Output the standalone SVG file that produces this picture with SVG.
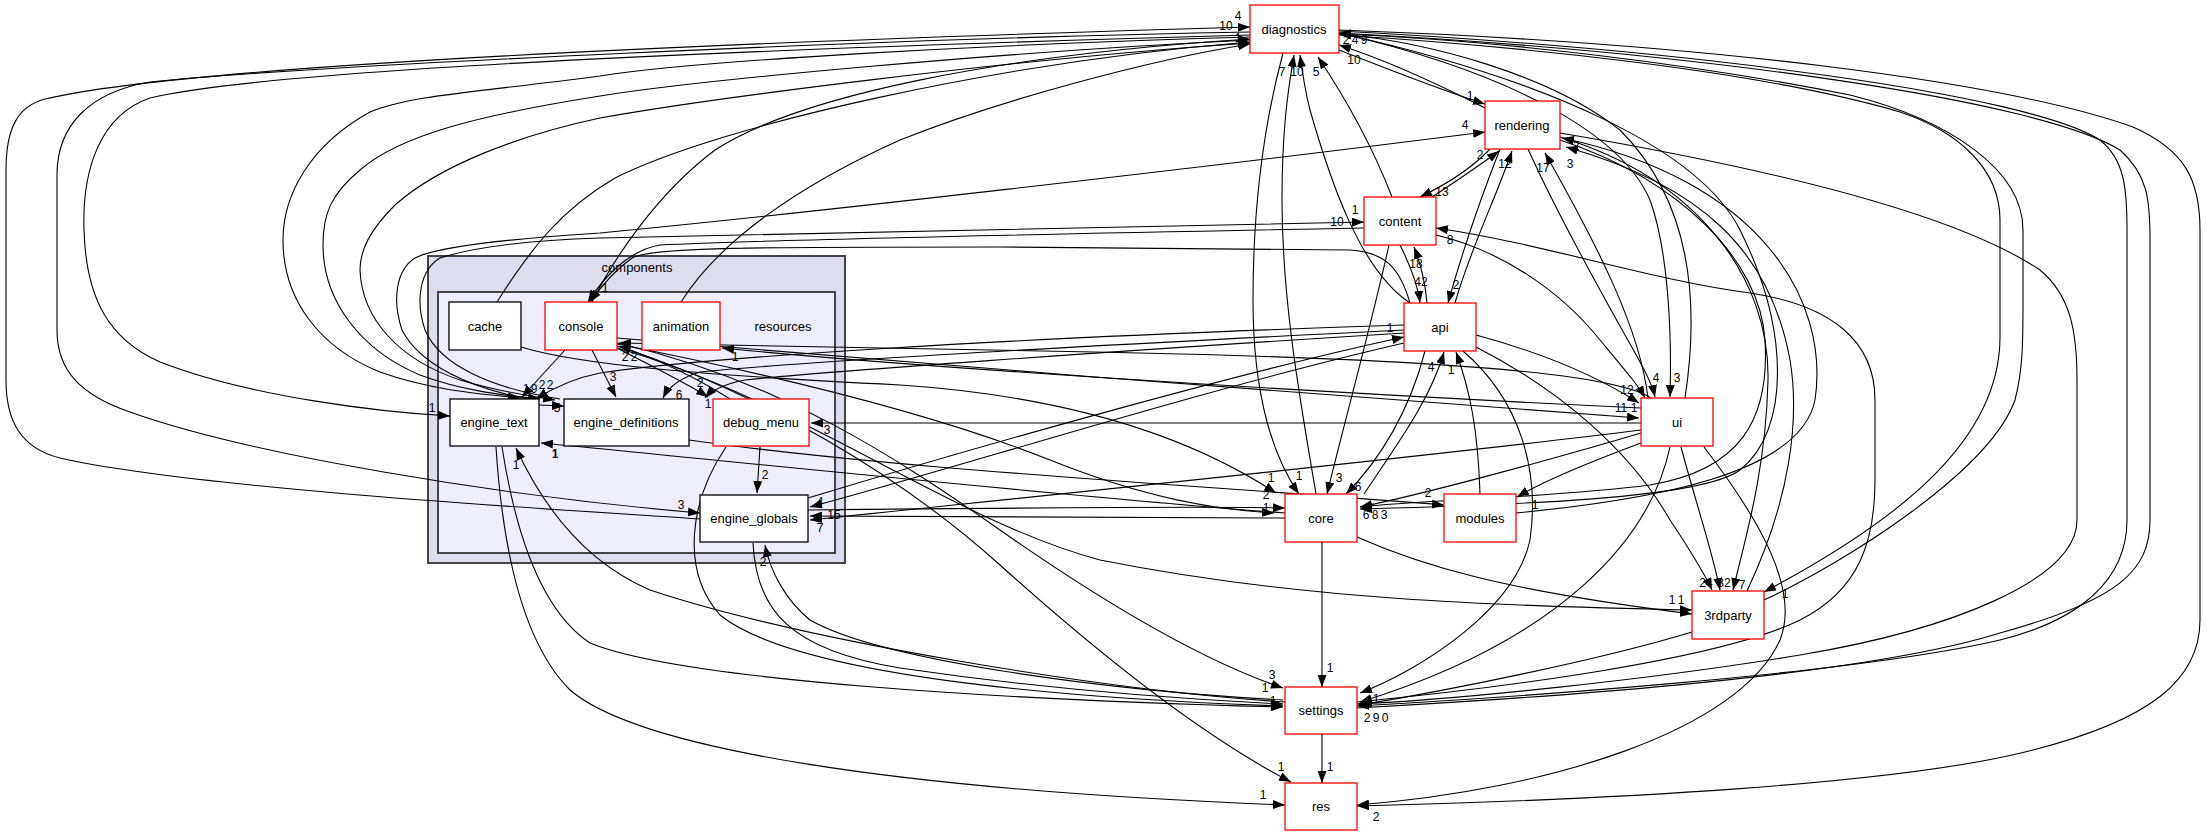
<svg xmlns="http://www.w3.org/2000/svg" width="2207" height="836" viewBox="0 0 2207 836">
<defs>
<marker id="a" viewBox="0 0 12 9" refX="12" refY="4.5" markerWidth="12" markerHeight="9" orient="auto" markerUnits="userSpaceOnUse"><path d="M0,0 L12,4.5 L0,9 z" fill="#000"/></marker>
<style>
.e{fill:none;stroke:#000;stroke-width:1.1;marker-end:url(#a)}
.r{fill:#fff;stroke:#ff0000;stroke-width:1.3}
.b{fill:#fff;stroke:#000;stroke-width:1.3}
.t{font-family:"Liberation Sans",Arial,sans-serif;font-size:13px;text-anchor:middle;fill:#000}
.l{font-family:"Liberation Sans",Arial,sans-serif;font-size:12px;text-anchor:middle;fill:#000}
</style>
</defs>
<rect width="2207" height="836" fill="#fff"/>
<g id="cluster_components">
<rect x="428" y="256" width="417" height="307" fill="#ddddee" stroke="#444" stroke-width="2"/>
<text class="t" x="637" y="272">components</text>
</g>
<g id="cluster_resources">
<rect x="438" y="292" width="397" height="261" fill="#eeeeff" stroke="#444" stroke-width="2"/>
<text class="t" x="783" y="331">resources</text>
</g>
<g id="connectors">
<path class="e" d="M700,519 C600,512 200,490 60,458 C20,448 6,420 6,380 L6,170 C6,128 18,106 45,99 C200,62 800,40 1250,27"/>
<path class="e" d="M1250,32 C900,38 300,66 150,82 C90,92 57,125 57,175 L57,330 C57,370 80,395 130,412 C250,455 500,496 700,513"/>
<path class="e" d="M1250,35 C1000,42 300,62 150,98 C100,115 82,170 84,230 C86,300 110,340 160,362 C250,397 380,412 450,416"/>
<path class="e" d="M1250,37 C1000,44 700,60 600,76 C480,92 410,95 370,112 C310,145 283,195 283,240 C283,300 320,348 380,372 C430,390 480,394 520,398"/>
<path class="e" d="M1250,40 C1000,52 700,80 600,96 C480,115 400,135 360,170 C330,195 323,215 323,245 C323,300 360,350 420,375 C460,390 500,395 540,399"/>
<path class="e" d="M1250,43 C1000,60 700,100 600,118 C520,135 440,165 395,205 C370,230 360,250 360,270 C362,320 400,360 460,380 C500,392 530,396 555,400"/>
<path class="e" d="M528,399 C470,388 420,365 402,330 C392,300 396,270 415,258 C440,245 520,238 600,233 C800,214 1200,168 1485,132"/>
<path class="e" d="M560,399 C490,388 440,365 425,330 C415,300 420,270 440,258 C480,245 540,240 600,238 C900,230 1200,224 1364,222"/>
<path class="e" d="M539,405 L564,406"/>
<path class="e" d="M497,302 C530,250 560,210 615,178 C720,125 1000,62 1250,42"/>
<path class="e" d="M592,302 C612,262 655,195 715,150 C800,95 1000,55 1250,39"/>
<path class="e" d="M681,302 C720,240 800,185 900,140 C1000,100 1150,60 1250,44"/>
<path class="e" d="M1410,303 C1400,268 1385,252 1350,250 L1000,247 C760,247 650,247 632,258 C615,270 600,288 590,302"/>
<path class="e" d="M1364,228 C1100,233 760,240 660,245 C630,250 605,275 588,302"/>
<path class="e" d="M1339,30 C1700,43 2000,80 2133,127 C2185,150 2200,180 2200,230 L2200,620 C2200,680 2150,720 2033,750 C1900,785 1600,800 1357,806"/>
<path class="e" d="M1339,31 C1700,50 2030,95 2100,140 C2125,160 2127,190 2127,230 L2127,520 C2127,580 2080,620 2000,640 C1850,675 1500,698 1357,706"/>
<path class="e" d="M1357,708 C1500,700 1850,680 2000,633 C2120,600 2150,570 2150,520 L2150,240 C2150,200 2148,175 2120,150 C2040,100 1700,52 1339,33"/>
<path class="e" d="M1764,600 C1850,560 1990,470 2015,400 C2023,370 2023,340 2023,300 L2023,230 C2023,170 1950,120 1850,95 C1700,65 1500,40 1339,34"/>
<path class="e" d="M1339,35 C1500,45 1750,68 1900,112 C1960,132 2000,170 2000,220 L2000,337 C2000,440 1900,520 1764,592"/>
<path class="e" d="M1560,133 C1750,165 1950,210 2040,270 C2070,295 2077,330 2077,380 L2077,520 C2077,580 1950,630 1800,655 C1650,680 1450,700 1357,704"/>
<path class="e" d="M1357,702 C1500,688 1720,660 1800,620 C1860,590 1875,540 1875,480 L1875,400 C1875,340 1830,305 1750,293 C1650,280 1550,245 1436,228"/>
<path class="e" d="M1485,108 C1430,80 1380,58 1339,45"/>
<path class="e" d="M1339,50 C1390,70 1440,90 1485,104"/>
<path class="e" d="M1392,197 C1370,140 1340,90 1318,57"/>
<path class="e" d="M1410,303 C1360,270 1330,180 1310,110 C1305,90 1302,70 1300,55"/>
<path class="e" d="M1316,494 C1300,400 1282,300 1282,200 C1282,120 1290,80 1294,55"/>
<path class="e" d="M1283,53 C1265,120 1253,200 1253,300 C1253,400 1275,460 1299,494"/>
<path class="e" d="M1490,149 C1470,170 1445,185 1420,197"/>
<path class="e" d="M1432,197 C1458,180 1480,165 1499,151"/>
<path class="e" d="M1500,149 C1480,200 1460,260 1448,303"/>
<path class="e" d="M1455,303 C1470,250 1495,200 1512,151"/>
<path class="e" d="M1400,245 C1410,265 1418,285 1420,303"/>
<path class="e" d="M1427,303 C1425,280 1420,262 1414,247"/>
<path class="e" d="M1389,245 C1370,330 1345,420 1327,494"/>
<path class="e" d="M1425,351 C1410,410 1380,460 1346,494"/>
<path class="e" d="M1364,494 C1400,440 1430,400 1444,352"/>
<path class="e" d="M1480,494 C1478,430 1470,390 1456,352"/>
<path class="e" d="M1322,542 L1322,687"/>
<path class="e" d="M1322,734 L1322,783"/>
<path class="e" d="M1528,149 C1560,220 1600,290 1625,335 C1642,365 1652,383 1655,397"/>
<path class="e" d="M1339,33 C1500,70 1620,130 1650,200 C1668,250 1672,330 1670,397"/>
<path class="e" d="M1648,398 C1640,330 1600,250 1545,153"/>
<path class="e" d="M1685,398 C1700,300 1690,200 1620,130 C1550,75 1430,42 1339,34"/>
<path class="e" d="M1560,140 C1680,180 1760,260 1765,340 C1770,420 1740,470 1650,485 C1550,498 1420,500 1360,507"/>
<path class="e" d="M1339,33 C1550,80 1700,150 1740,230 C1790,330 1790,430 1740,470 C1700,500 1500,505 1360,509"/>
<path class="e" d="M1436,235 C1500,250 1560,290 1600,340 C1625,370 1638,385 1645,398"/>
<path class="e" d="M1476,335 C1550,355 1600,378 1639,403"/>
<path class="e" d="M617,338 C900,362 1400,402 1639,418" stroke-width="1.6"/>
<path class="e" d="M1651,398 C1620,378 1500,362 1180,354 C950,348 700,345 619,343"/>
<path class="e" d="M1641,408 C1300,392 900,366 722,348"/>
<path class="e" d="M1641,423 L811,423"/>
<path class="e" d="M1641,430 C1400,460 1000,500 810,520"/>
<path class="e" d="M1641,433 C1550,460 1420,495 1360,507"/>
<path class="e" d="M1641,443 C1590,462 1545,480 1517,497"/>
<path class="e" d="M1670,447 C1650,540 1560,640 1360,702"/>
<path class="e" d="M1681,447 C1695,500 1712,550 1720,590"/>
<path class="e" d="M1704,447 C1760,520 1800,590 1780,640 C1740,730 1550,790 1357,805"/>
<path class="e" d="M1476,347 C1560,390 1630,450 1670,520 C1690,550 1705,575 1712,590"/>
<path class="e" d="M1560,137 C1700,180 1770,280 1768,380 C1766,470 1745,540 1733,590"/>
<path class="e" d="M1747,591 C1790,500 1800,420 1790,360 C1770,250 1700,185 1566,147"/>
<path class="e" d="M1516,513 C1650,500 1800,475 1815,400 C1830,300 1760,180 1562,138"/>
<path class="e" d="M1463,351 C1520,400 1540,470 1530,540 C1515,610 1420,670 1360,693"/>
<path class="e" d="M1692,632 C1600,660 1450,690 1360,705"/>
<path class="e" d="M1357,537 C1420,565 1500,590 1692,614"/>
<path class="e" d="M1404,343 C1200,390 950,470 810,507"/>
<path class="e" d="M808,498 C1000,440 1250,370 1404,337"/>
<path class="e" d="M1404,325 C1000,338 700,358 600,373 C570,379 550,390 536,399"/>
<path class="e" d="M1404,330 C1100,345 800,362 700,372 C680,378 668,388 663,398"/>
<path class="e" d="M1404,333 C1100,352 820,372 745,380 C725,384 712,390 705,398"/>
<path class="e" d="M1285,518 L810,516"/>
<path class="e" d="M808,510 C1000,508 1200,506 1285,508"/>
<path class="e" d="M1285,513 C1100,500 700,458 541,443"/>
<path class="e" d="M1285,702 C1100,690 800,640 650,590 C580,560 540,500 516,448"/>
<path class="e" d="M502,447 C515,530 540,610 590,643 C680,680 1000,700 1283,707"/>
<path class="e" d="M496,447 C502,540 520,640 570,690 C640,750 900,790 1285,805"/>
<path class="e" d="M753,543 C756,610 790,650 900,668 C1050,690 1200,700 1283,704"/>
<path class="e" d="M1283,700 C1100,690 880,660 810,620 C785,600 770,570 765,545"/>
<path class="e" d="M726,447 C690,500 680,570 720,615 C800,680 1100,700 1283,706"/>
<path class="e" d="M760,447 L757,493"/>
<path class="e" d="M565,350 L522,397"/>
<path class="e" d="M592,350 L616,397"/>
<path class="e" d="M617,348 C650,365 690,385 708,397"/>
<path class="e" d="M730,399 C700,380 660,360 619,346"/>
<path class="e" d="M617,343 C780,380 900,460 1000,530 C1100,600 1200,660 1283,688"/>
<path class="e" d="M617,346 C760,392 900,475 1000,565 C1100,655 1200,735 1291,782"/>
<path class="e" d="M617,344 C800,380 950,420 1050,460 C1150,500 1220,510 1274,513"/>
<path class="e" d="M617,348 C800,400 950,520 1100,560 C1300,600 1500,606 1692,610"/>
<path class="e" d="M521,347 C580,365 700,375 900,385 C1050,395 1180,430 1276,493"/>
<path class="e" d="M689,440 C900,470 1200,485 1444,505"/>
</g>
<g id="edge_labels">
<text class="l" x="1238" y="20">4</text><text class="l" x="1226" y="30">10</text><text class="l" x="1238" y="42">1</text>
<text class="l" x="1346" y="44">2</text><text class="l" x="1355" y="44">4</text><text class="l" x="1364" y="44">9</text>
<text class="l" x="1282" y="76">7</text><text class="l" x="1297" y="76">10</text><text class="l" x="1316" y="76">5</text><text class="l" x="1354" y="64">10</text>
<text class="l" x="1470" y="100">1</text><text class="l" x="1465" y="129">4</text><text class="l" x="1480" y="159">2</text><text class="l" x="1505" y="168">12</text><text class="l" x="1543" y="172">17</text><text class="l" x="1576" y="150">2</text><text class="l" x="1570" y="168">3</text>
<text class="l" x="1355" y="214">1</text><text class="l" x="1337" y="226">10</text><text class="l" x="1442" y="196">13</text><text class="l" x="1450" y="244">8</text><text class="l" x="1416" y="268">18</text><text class="l" x="1421" y="286">42</text>
<text class="l" x="1456" y="289">2</text><text class="l" x="1390" y="332">1</text><text class="l" x="1431" y="371">4</text><text class="l" x="1451" y="374">1</text>
<text class="l" x="1656" y="382">4</text><text class="l" x="1677" y="382">3</text><text class="l" x="1627" y="394">12</text><text class="l" x="1621" y="412">11</text><text class="l" x="1634" y="412">1</text>
<text class="l" x="1271" y="482">1</text><text class="l" x="1299" y="480">1</text><text class="l" x="1339" y="482">3</text><text class="l" x="1358" y="491">6</text><text class="l" x="1266" y="499">2</text><text class="l" x="1266" y="512">1</text><text class="l" x="1366" y="519">6</text><text class="l" x="1375" y="519">8</text><text class="l" x="1384" y="519">3</text>
<text class="l" x="1428" y="497">2</text><text class="l" x="1535" y="509">1</text>
<text class="l" x="1706" y="587">24</text><text class="l" x="1724" y="587">32</text><text class="l" x="1742" y="589">7</text><text class="l" x="1672" y="604">1</text><text class="l" x="1681" y="604">1</text><text class="l" x="1785" y="598">1</text>
<text class="l" x="1272" y="679">3</text><text class="l" x="1265" y="692">1</text><text class="l" x="1273" y="705">1</text><text class="l" x="1330" y="672">1</text><text class="l" x="1376" y="703">1</text><text class="l" x="1367" y="722">2</text><text class="l" x="1376" y="722">9</text><text class="l" x="1385" y="722">0</text>
<text class="l" x="1281" y="771">1</text><text class="l" x="1330" y="771">1</text><text class="l" x="1263" y="799">1</text><text class="l" x="1376" y="821">2</text>
<text class="l" x="432" y="412">1</text><text class="l" x="516" y="469">1</text><text class="l" x="555" y="458" font-weight="bold">1</text><text class="l" x="526" y="393">1</text><text class="l" x="534" y="393">9</text><text class="l" x="542" y="389">2</text><text class="l" x="550" y="389">2</text><text class="l" x="557" y="412">5</text>
<text class="l" x="613" y="381">3</text><text class="l" x="679" y="399">6</text><text class="l" x="700" y="387">2</text><text class="l" x="708" y="408">1</text><text class="l" x="827" y="434">3</text><text class="l" x="625" y="361">2</text><text class="l" x="634" y="361">2</text>
<text class="l" x="681" y="509">3</text><text class="l" x="765" y="479">2</text><text class="l" x="820" y="506">4</text><text class="l" x="834" y="519">15</text><text class="l" x="820" y="532">7</text><text class="l" x="763" y="566">2</text>
<text class="l" x="605" y="292">1</text><text class="l" x="735" y="361">1</text>
</g>
<g id="node_diagnostics"><rect class="r" x="1250" y="5" width="89" height="48"/><text class="t" x="1294" y="34">diagnostics</text></g>
<g id="node_rendering"><rect class="r" x="1485" y="101" width="75" height="48"/><text class="t" x="1522" y="130">rendering</text></g>
<g id="node_content"><rect class="r" x="1364" y="197" width="72" height="48"/><text class="t" x="1400" y="226">content</text></g>
<g id="node_api"><rect class="r" x="1404" y="303" width="72" height="48"/><text class="t" x="1440" y="332">api</text></g>
<g id="node_ui"><rect class="r" x="1641" y="398" width="72" height="48"/><text class="t" x="1677" y="427">ui</text></g>
<g id="node_core"><rect class="r" x="1285" y="494" width="72" height="48"/><text class="t" x="1321" y="523">core</text></g>
<g id="node_modules"><rect class="r" x="1444" y="494" width="72" height="48"/><text class="t" x="1480" y="523">modules</text></g>
<g id="node_3rdparty"><rect class="r" x="1692" y="591" width="72" height="48"/><text class="t" x="1728" y="620">3rdparty</text></g>
<g id="node_settings"><rect class="r" x="1285" y="687" width="72" height="47"/><text class="t" x="1321" y="715">settings</text></g>
<g id="node_res"><rect class="r" x="1285" y="783" width="72" height="47"/><text class="t" x="1321" y="811">res</text></g>
<g id="node_cache"><rect class="b" x="449" y="302" width="72" height="48"/><text class="t" x="485" y="331">cache</text></g>
<g id="node_console"><rect class="r" x="545" y="302" width="72" height="48"/><text class="t" x="581" y="331">console</text></g>
<g id="node_animation"><rect class="r" x="642" y="302" width="78" height="48"/><text class="t" x="681" y="331">animation</text></g>
<g id="node_engine_text"><rect class="b" x="450" y="399" width="89" height="47"/><text class="t" x="494" y="427">engine_text</text></g>
<g id="node_engine_definitions"><rect class="b" x="564" y="399" width="125" height="47"/><text class="t" x="626" y="427">engine_definitions</text></g>
<g id="node_debug_menu"><rect class="r" x="713" y="399" width="96" height="47"/><text class="t" x="761" y="427">debug_menu</text></g>
<g id="node_engine_globals"><rect class="b" x="700" y="495" width="108" height="47"/><text class="t" x="754" y="523">engine_globals</text></g>
</svg>
